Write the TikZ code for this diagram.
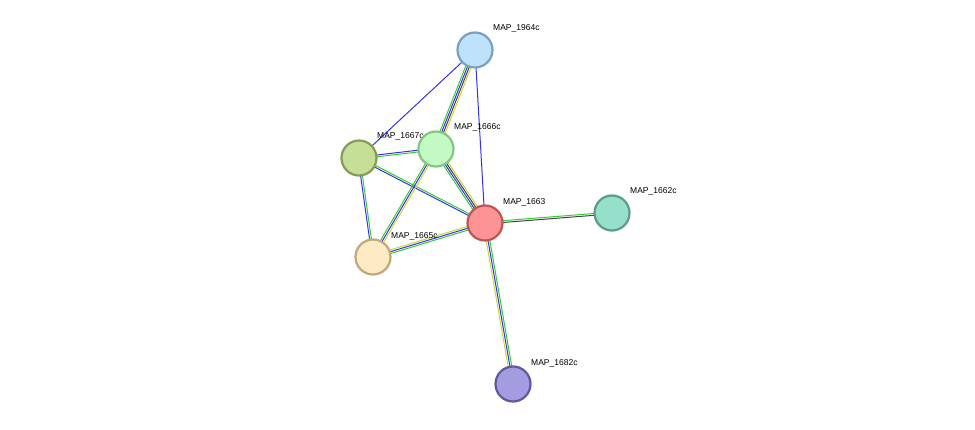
\documentclass[tikz,border=0pt]{standalone}
\usepackage{fontspec}
\setmainfont{Liberation Sans}
\usetikzlibrary{calc}
\definecolor{eg}{HTML}{33CC33}
\definecolor{eb}{HTML}{3333EE}
\definecolor{ek}{HTML}{444444}
\definecolor{ey}{HTML}{CCD633}
\tikzset{
  prot/.style={circle,minimum size=35pt,inner sep=0pt,line width=2.2pt},
  lab/.style={anchor=west,font=\fontsize{8.5pt}{10pt}\selectfont,inner sep=0pt},
  eline/.style={line width=1pt}
}
\newcommand\medge[3]{%
  \foreach \c [count=\i] in {#3} {\xdef\nn{\i}}%
  \foreach \c [count=\i] in {#3} {%
    \pgfmathsetmacro\o{(\i-(\nn+1)/2)*1.8}%
    \draw[eline,\c] ($(#1)!\o pt!90:(#2)$) -- ($(#2)!\o pt!-90:(#1)$);}%
}
\begin{document}
\begin{tikzpicture}[x=1pt,y=-1pt]
\useasboundingbox (0,0) rectangle (975,430);
\coordinate (a) at (475,50);
\coordinate (o) at (359,158);
\coordinate (b) at (436,149);
\coordinate (r) at (485,223);
\coordinate (t) at (612,213);
\coordinate (y) at (373,257);
\coordinate (p) at (513,384);
\medge{a}{o}{eb}
\medge{a}{r}{eb}
\medge{a}{b}{eg,eb,ek,ey}
\medge{b}{r}{eg,eb,ek,ey}
\medge{o}{b}{eg,eb}
\medge{o}{r}{eb,eg}
\medge{o}{y}{eb,eg}
\medge{b}{y}{eg,eb,ey}
\medge{r}{y}{ey,eb,eg}
\medge{r}{t}{ek,eg}
\medge{r}{p}{ey,eb,eg}
\node[lab] (lo) at ($(o)+(18,-22)$) {MAP\_1667c};
\node[prot,fill={rgb,255:red,198;green,223;blue,151},draw={rgb,255:red,136;green,154;blue,88}] (no) at (o) {};
\node[prot,fill={rgb,255:red,191;green,226;blue,252},draw={rgb,255:red,123;green,159;blue,191}] (na) at (a) {};
\node[prot,fill={rgb,255:red,195;green,250;blue,195},draw={rgb,255:red,134;green,196;blue,134}] (nb) at (b) {};
\node[prot,fill={rgb,255:red,253;green,148;blue,148},draw={rgb,255:red,191;green,84;blue,84}] (nr) at (r) {};
\node[prot,fill={rgb,255:red,150;green,224;blue,203},draw={rgb,255:red,90;green,156;blue,138}] (nt) at (t) {};
\node[prot,fill={rgb,255:red,254;green,234;blue,195},draw={rgb,255:red,191;green,168;blue,122}] (ny) at (y) {};
\node[prot,fill={rgb,255:red,162;green,156;blue,224},draw={rgb,255:red,95;green,88;blue,160}] (np) at (p) {};
\node[lab] (la) at ($(a)+(18,-22)$) {MAP\_1964c};
\node[lab] (lb) at ($(b)+(18,-22)$) {MAP\_1666c};
\node[lab] (lr) at ($(r)+(18,-21)$) {MAP\_1663};
\node[lab] (lt) at ($(t)+(18,-22)$) {MAP\_1662c};
\node[lab] (ly) at ($(y)+(18,-21)$) {MAP\_1665c};
\node[lab] (lp) at ($(p)+(18,-21)$) {MAP\_1682c};
\end{tikzpicture}
\end{document}
